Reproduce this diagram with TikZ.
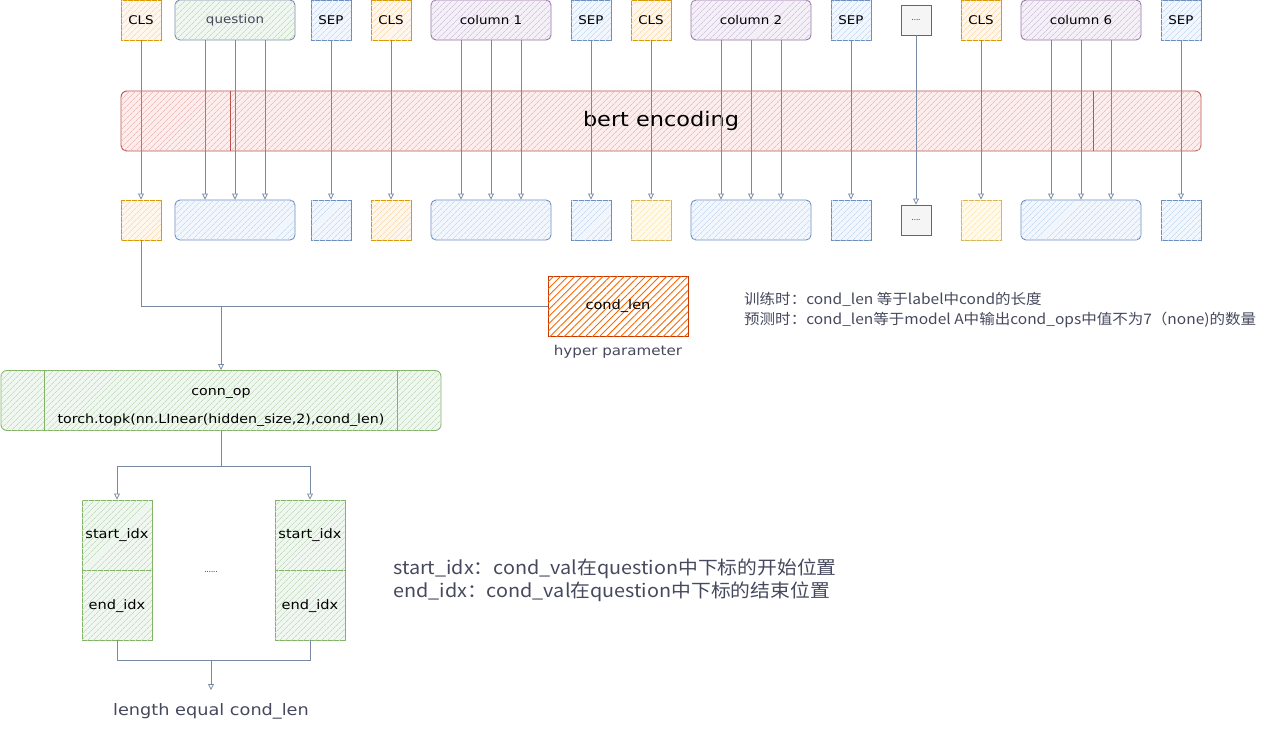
\documentclass[tikz,border=0pt]{standalone}
\usepackage{fontspec}
\setmainfont{DejaVu Sans}
\newfontfamily\hw[FakeStretch=1.12]{DejaVu Sans}
\newfontfamily\cjk[FakeStretch=1.07]{Noto Sans CJK SC}
\usetikzlibrary{patterns.meta,arrows.meta,calc}
\definecolor{clsF}{HTML}{FFE6CC}\definecolor{clsD}{HTML}{D79B00}
\definecolor{sepF}{HTML}{DAE8FC}\definecolor{sepD}{HTML}{6C8EBF}
\definecolor{colF}{HTML}{E1D5E7}\definecolor{colD}{HTML}{9673A6}
\definecolor{grnF}{HTML}{D5E8D4}\definecolor{grnD}{HTML}{82B366}
\definecolor{redF}{HTML}{F8CECC}\definecolor{redD}{HTML}{B85450}
\definecolor{yelF}{HTML}{FFF2CC}\definecolor{yelD}{HTML}{D6B656}
\definecolor{gryF}{HTML}{F5F5F5}\definecolor{gryD}{HTML}{666666}
\definecolor{orgF}{HTML}{FA6800}\definecolor{orgD}{HTML}{C73500}
\definecolor{lineC}{HTML}{788AA3}
\definecolor{txtC}{HTML}{46495D}
\definecolor{qD}{HTML}{7A8AA8}
\tikzset{
  hatch/.style={postaction={pattern={Lines[angle=45,distance=4pt,line width=0.7pt]},pattern color=#1}},
  box/.style={draw, rectangle, inner sep=0pt, minimum height=40pt, line width=0.9pt, text=black, font=\hw\fontsize{12}{14}\selectfont},
  sq/.style={box, minimum width=40pt},
  wide/.style={box, minimum width=120pt, rounded corners=5pt},
  clsbox/.style={draw=clsD, fill=clsF!35, hatch=clsF!85!clsD},
  sepbox/.style={draw=sepD, fill=sepF!35, hatch=sepF!85!sepD},
  colbox/.style={draw=colD, fill=colF!35, hatch=colF!85!colD},
  qbox/.style={draw=qD, fill=grnF!35, hatch=grnF!80!grnD},
  yelbox/.style={draw=yelD, fill=yelF!35, hatch=yelF!85!yelD},
  grnbox/.style={draw=grnD, fill=grnF!35, hatch=grnF!80!grnD},
  dotbox/.style={draw=gryD, fill=gryF, line width=0.9pt, minimum width=30pt, minimum height=30pt, inner sep=0pt, font=\fontsize{7}{8}\selectfont},
  conn/.style={draw=lineC, line width=0.8pt, -{Triangle[open,length=6pt,width=6pt]}},
  plainline/.style={draw=lineC, line width=0.8pt},
  note/.style={text=txtC, inner sep=0pt}
}
\begin{document}
\begin{tikzpicture}[x=1pt,y=-1pt]
\useasboundingbox (0,0) rectangle (1282,731);
% bert encoding
\node[draw=redD, fill=redF!35, hatch=redF!85!redD, rounded corners=6pt, line width=0.9pt, minimum width=1080pt, minimum height=60pt, inner sep=0pt, font=\hw\fontsize{20}{22}\selectfont] (bert) at (661,121) {bert encoding};
\draw[draw=redD, line width=0.9pt] ([xshift=110pt]bert.north west) -- ([xshift=110pt]bert.south west);
\draw[draw=redD, line width=0.9pt] ([xshift=-108pt]bert.north east) -- ([xshift=-108pt]bert.south east);
% top tokens
\node[sq, clsbox] (t1) at (141,20) {CLS};
\node[wide, qbox, text=txtC] (t2) at (235,20) {question};
\node[sq, sepbox] (t3) at (331,20) {SEP};
\node[sq, clsbox] (t4) at (391,20) {CLS};
\node[wide, colbox] (t5) at (491,20) {column 1};
\node[sq, sepbox] (t6) at (591,20) {SEP};
\node[sq, clsbox] (t7) at (651,20) {CLS};
\node[wide, colbox] (t8) at (751,20) {column 2};
\node[sq, sepbox] (t9) at (851,20) {SEP};
\node[dotbox] (t10) at (916,20) {....};
\node[sq, clsbox] (t11) at (981,20) {CLS};
\node[wide, colbox] (t12) at (1081,20) {column 6};
\node[sq, sepbox] (t13) at (1181,20) {SEP};
% bottom outputs
\node[sq, clsbox] (b1) at (141,220) {};
\node[wide, sepbox] (b2) at (235,220) {};
\node[sq, sepbox] (b3) at (331,220) {};
\node[sq, clsbox] (b4) at (391,220) {};
\node[wide, sepbox] (b5) at (491,220) {};
\node[sq, sepbox] (b6) at (591,220) {};
\node[sq, yelbox] (b7) at (651,220) {};
\node[wide, sepbox] (b8) at (751,220) {};
\node[sq, sepbox] (b9) at (851,220) {};
\node[dotbox] (b10) at (916,220) {....};
\node[sq, yelbox] (b11) at (981,220) {};
\node[wide, sepbox] (b12) at (1081,220) {};
\node[sq, sepbox] (b13) at (1181,220) {};
\foreach \n/\o in {1/0,2/-30,2/0,2/30,3/0,4/0,5/-30,5/0,5/30,6/0,7/0,8/-30,8/0,8/30,9/0,10/0,11/0,12/-30,12/0,12/30,13/0}
  \draw[conn] ([xshift=\o pt]t\n.south) -- ([xshift=\o pt]b\n.north);
% cond_len
\node[draw=orgD, fill=white, line width=0.9pt, minimum width=140pt, minimum height=60pt, inner sep=0pt, font=\hw\fontsize{13}{15}\selectfont, postaction={pattern={Lines[angle=45,distance=5pt,line width=0.9pt]},pattern color=orgF}] (cl) at (618,306) {cond\_len};
\node[note, font=\hw\fontsize{13.5}{15}\selectfont] (hp) at (618,352) {hyper parameter};
% conn_op
\node[draw=grnD, fill=grnF!35, hatch=grnF!80!grnD, rounded corners=6pt, line width=0.9pt, minimum width=440pt, minimum height=60pt, inner sep=0pt, align=center, font=\hw\fontsize{12.7}{28}\selectfont] (cop) at (221,400.5) {\rule{0pt}{20pt}conn\_op\\torch.topk(nn.LInear(hidden\_size,2),cond\_len)};
\draw[draw=grnD, line width=0.9pt] ([xshift=44pt]cop.north west) -- ([xshift=44pt]cop.south west);
\draw[draw=grnD, line width=0.9pt] ([xshift=-44pt]cop.north east) -- ([xshift=-44pt]cop.south east);
\coordinate (j) at (cop.north |- cl.west);
\draw[plainline] (b1.south) |- (cl.west);
\draw[conn] (j) -- (cop.north);
% start/end blocks
\node[box, grnbox, minimum width=70pt, minimum height=70pt, font=\hw\fontsize{13}{15}\selectfont] (s1) at (117,535) {start\_idx};
\node[box, grnbox, minimum width=70pt, minimum height=70pt, font=\hw\fontsize{13}{15}\selectfont] (e1) at (117,605) {\rule{0pt}{13pt}end\_idx};
\node[box, grnbox, minimum width=70pt, minimum height=70pt, font=\hw\fontsize{13}{15}\selectfont] (s2) at (310,535) {start\_idx};
\node[box, grnbox, minimum width=70pt, minimum height=70pt, font=\hw\fontsize{13}{15}\selectfont] (e2) at (310,605) {\rule{0pt}{13pt}end\_idx};
\node[inner sep=0pt, font=\fontsize{7}{8}\selectfont] (dd) at (211,572) {......};
\coordinate (sp) at ($(cop.south)+(0,35)$);
\draw[conn] (cop.south) -- (sp) -| (s1.north);
\draw[conn] (sp) -| (s2.north);
\coordinate (m) at (211,660);
\coordinate (mt) at (211,690);
\draw[plainline] (e1.south) |- (m);
\draw[plainline] (e2.south) |- (m);
\draw[conn] (m) -- (mt);
\node[note, font=\hw\fontsize{15.8}{18}\selectfont] (len) at (211,711) {length equal cond\_len};
% notes
\node[note, anchor=west, align=left, font=\cjk\fontsize{14.5}{20}\selectfont] (train) at (744,310) {训练时：cond\_len 等于label中cond的长度\\预测时：cond\_len等于model A中输出cond\_ops中值不为7（none)的数量};
\node[note, anchor=west, align=left, font=\cjk\fontsize{18.5}{23}\selectfont] (idx) at (393,580) {start\_idx：cond\_val在question中下标的开始位置\\end\_idx：cond\_val在question中下标的结束位置};
\end{tikzpicture}
\end{document}
